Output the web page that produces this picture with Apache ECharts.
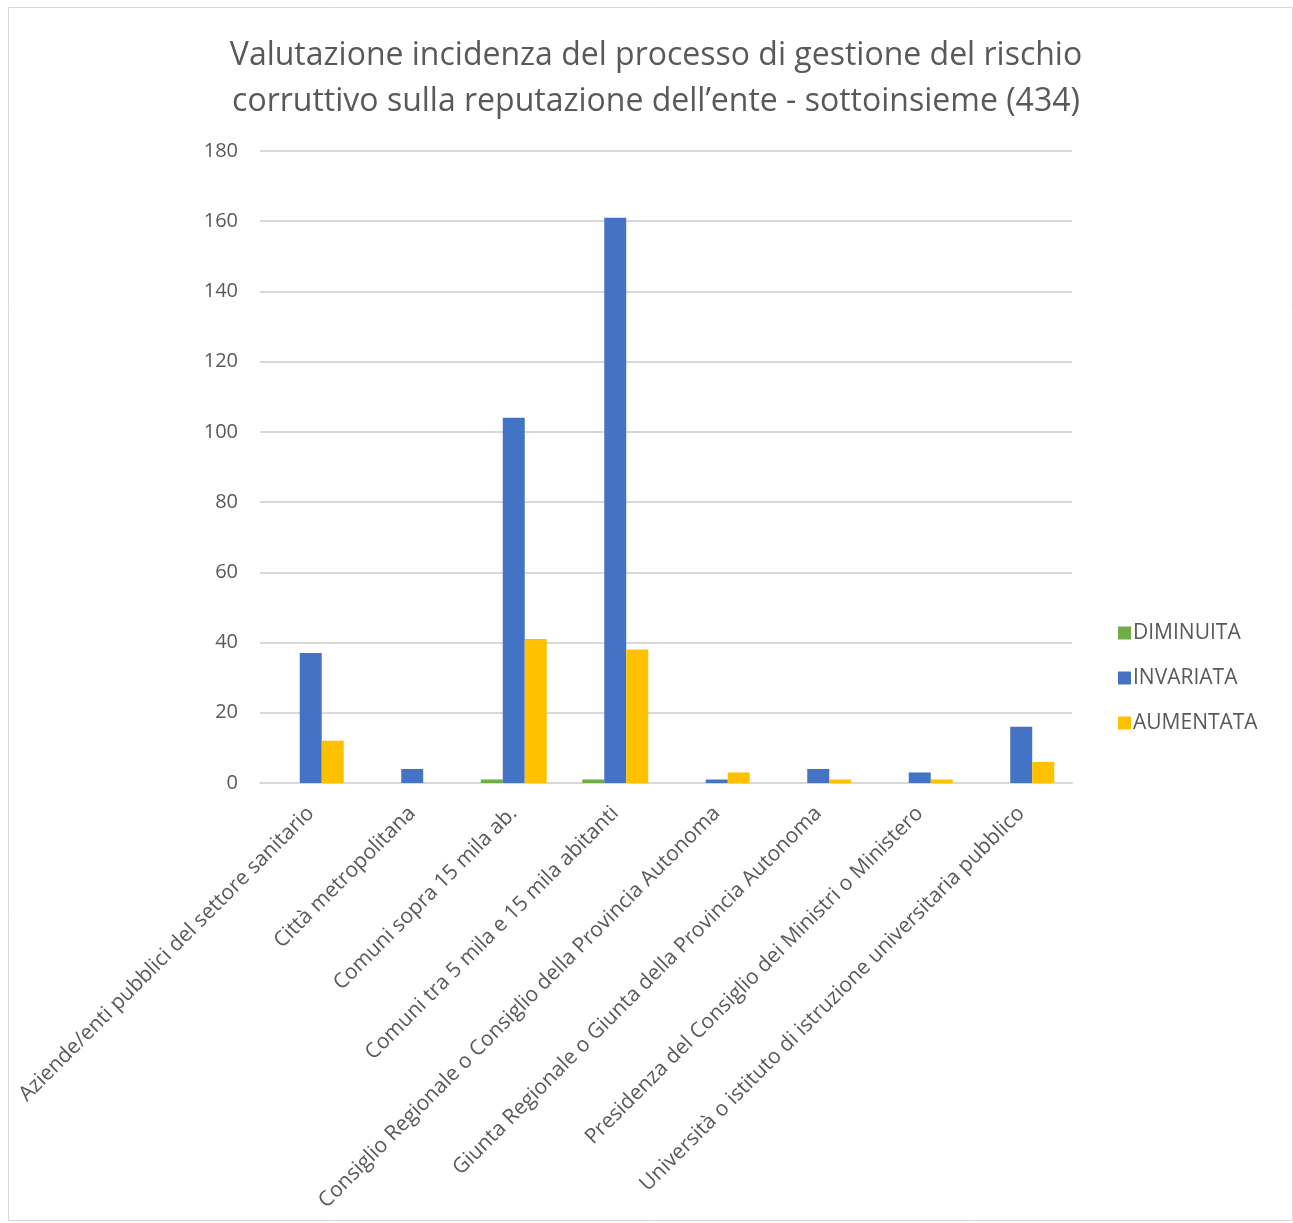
<!DOCTYPE html>
<html><head><meta charset="utf-8">
<script src="https://cdn.jsdelivr.net/npm/echarts@6/dist/echarts.min.js"></script>
<style>html,body{margin:0;padding:0;background:#fff;}#c{width:1293px;height:1223px;}</style>
</head><body><div id="c"></div>
<script>
const categories = [
  "Aziende/enti pubblici del settore sanitario",
  "Città metropolitana",
  "Comuni sopra 15 mila ab.",
  "Comuni tra 5 mila e 15 mila abitanti",
  "Consiglio Regionale o Consiglio della Provincia Autonoma",
  "Giunta Regionale o Giunta della Provincia Autonoma",
  "Presidenza del Consiglio dei Ministri o Ministero",
  "Università o istituto di istruzione universitaria pubblico"
];
const diminuita = [0, 0, 1, 1, 0, 0, 0, 0];
const invariata = [37, 4, 104, 161, 1, 4, 3, 16];
const aumentata = [12, 0, 41, 38, 3, 1, 1, 6];
const seriesNames = ["DIMINUITA", "INVARIATA", "AUMENTATA"];
const titleText = "Valutazione incidenza del processo di gestione del rischio\ncorruttivo sulla reputazione dell\u2019ente - sottoinsieme (434)";

const chart = echarts.init(document.getElementById('c'), null, {renderer: 'canvas'});
const font = "'Open Sans', 'Noto Sans', sans-serif";
chart.setOption({
  animation: false,
  textStyle: {fontFamily: font},
  graphic: [{type: 'rect', shape: {x: 8.5, y: 7.5, width: 1284, height: 1213}, style: {fill: 'none', stroke: '#d9d9d9', lineWidth: 1}, silent: true}],
  title: {
    text: titleText, left: 651, textAlign: 'center', top: 28,
    textStyle: {fontFamily: font, fontSize: 32, fontWeight: 'normal', color: '#595959', lineHeight: 46}
  },
  legend: {
    orient: 'vertical', left: 1113, top: 616, itemGap: 21, itemWidth: 13, itemHeight: 13,
    icon: 'rect', data: seriesNames,
    textStyle: {fontFamily: font, fontSize: 21, lineHeight: 24, color: '#595959', padding: [0, 0, 0, -3]}
  },
  grid: {left: 260, right: 221, top: 151, bottom: 440, containLabel: false},
  xAxis: {
    type: 'category', data: categories,
    axisLine: {lineStyle: {color: '#d9d9d9', width: 2}},
    axisTick: {show: false},
    axisLabel: {rotate: 45, interval: 0, fontFamily: font, fontSize: 21, color: '#595959', margin: 27}
  },
  yAxis: {
    type: 'value', min: 0, max: 180, interval: 20,
    axisLine: {show: false}, axisTick: {show: false},
    splitLine: {lineStyle: {color: '#d9d9d9', width: 2}},
    axisLabel: {fontFamily: font, fontSize: 20, color: '#595959', margin: 22}
  },
  series: [
    {name: seriesNames[0], type: 'bar', data: diminuita, itemStyle: {color: '#70ad47'}, barGap: '0%', barCategoryGap: '35%'},
    {name: seriesNames[1], type: 'bar', data: invariata, itemStyle: {color: '#4472c4'}, barGap: '0%', barCategoryGap: '35%'},
    {name: seriesNames[2], type: 'bar', data: aumentata, itemStyle: {color: '#ffc000'}, barGap: '0%', barCategoryGap: '35%'}
  ]
});
</script></body></html>
